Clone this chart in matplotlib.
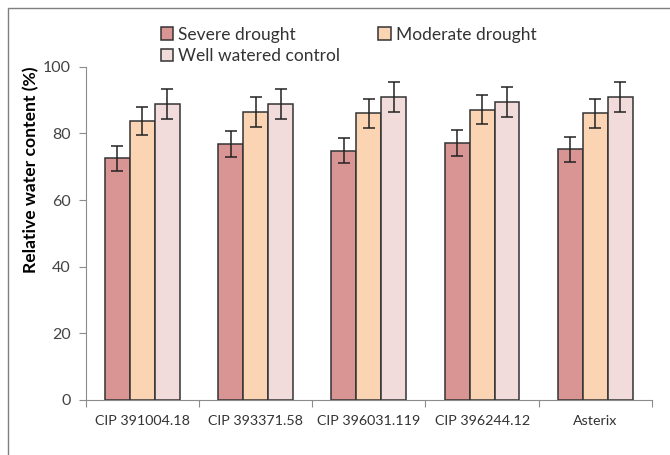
import matplotlib.pyplot as plt
import numpy as np
from matplotlib.patches import Rectangle

plt.rcParams['font.family'] = ['Lato', 'DejaVu Sans']

# Data
genotypes = ["CIP 391004.18", "CIP 393371.58", "CIP 396031.119", "CIP 396244.12", "Asterix"]
series_names = ["Severe drought", "Moderate drought", "Well watered control"]
severe = [72.5, 76.8, 74.8, 77.0, 75.2]
moderate = [83.8, 86.4, 86.1, 87.2, 86.1]
watered = [88.9, 88.9, 91.1, 89.6, 91.1]
severe_err = [3.7, 3.9, 3.8, 3.9, 3.7]
moderate_err = [4.3, 4.5, 4.3, 4.3, 4.3]
watered_err = [4.5, 4.5, 4.5, 4.5, 4.5]

colors = ["#D99594", "#FBD4B4", "#F2DCDB"]

fig = plt.figure(figsize=(6.7, 4.55), dpi=100)
ax = fig.add_axes([0.128, 0.121, 0.845, 0.732])

# outer chart border
fig.patches.append(Rectangle((8 / 670, -0.1), 1.2, 1.1 - 8 / 455,
                             transform=fig.transFigure, fill=False,
                             edgecolor="#7f7f7f", lw=1.0))

x = np.arange(len(genotypes))
w = 0.22
handles = []
for i, (vals, errs) in enumerate([(severe, severe_err), (moderate, moderate_err), (watered, watered_err)]):
    b = ax.bar(x + (i - 1) * w, vals, w, color=colors[i], edgecolor="#333333", lw=1.1,
               yerr=errs, capsize=4.5,
               error_kw=dict(ecolor="#222222", elinewidth=1.1, capthick=1.1),
               label=series_names[i], zorder=2)
    handles.append(b)

ax.set_xlim(-0.5, len(genotypes) - 0.5)
ax.set_ylim(0, 100)
ax.set_yticks(range(0, 101, 20))
ax.set_xticks(np.arange(-0.5, len(genotypes), 1), minor=False)
ax.set_xticklabels([])
ax.set_xticks(x, minor=True)
ax.set_xticklabels(genotypes, minor=True, fontsize=10.3, color="#333333")
ax.tick_params(axis="x", which="minor", length=0, pad=11)
ax.tick_params(axis="x", which="major", length=5, color="#8c8c8c", direction="out")
ax.tick_params(axis="y", length=5, color="#8c8c8c", labelsize=11.5, labelcolor="#444444", pad=6)

for s in ["top", "right"]:
    ax.spines[s].set_visible(False)
for s in ["left", "bottom"]:
    ax.spines[s].set_color("#8c8c8c")

ax.set_ylabel("Relative water content (%)", fontsize=12.6, fontweight="bold", loc="top", labelpad=2)

# row-major order for a 2-column legend
leg = ax.legend([handles[0], handles[2], handles[1]],
                [series_names[0], series_names[2], series_names[1]],
                ncol=2, frameon=False, fontsize=12.5,
                handlelength=0.7, handleheight=0.7, handletextpad=0.3,
                columnspacing=2.2, labelspacing=0.3,
                loc="upper left", bbox_to_anchor=(0.105, 1.168))
for t in leg.get_texts():
    t.set_color("#333333")

fig.savefig("out.png", dpi=100)
